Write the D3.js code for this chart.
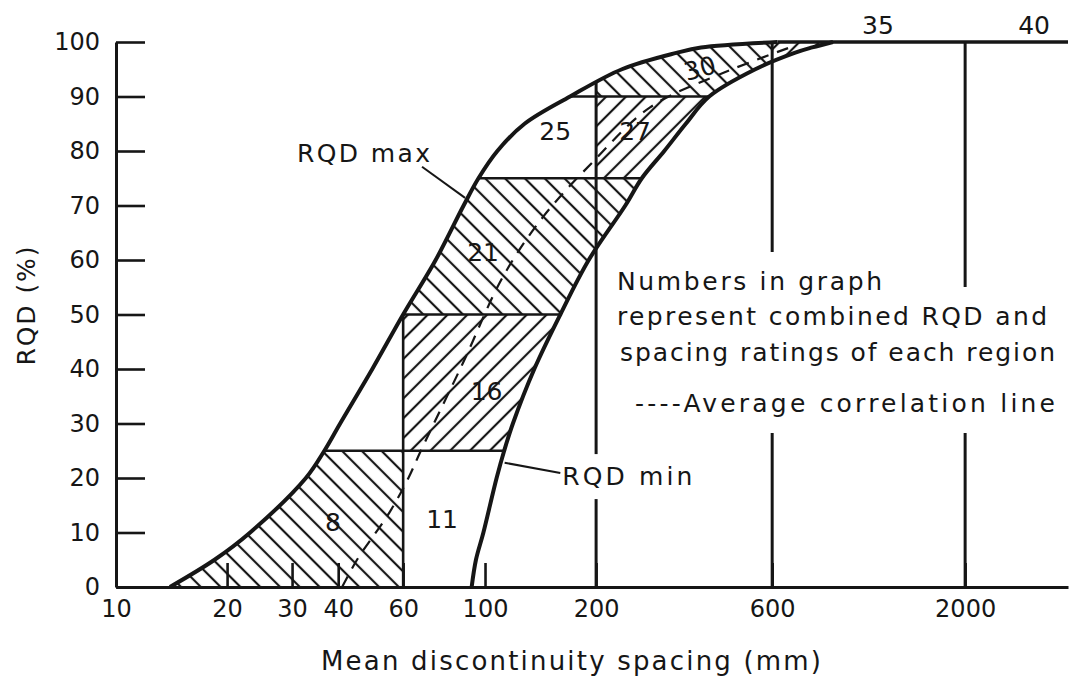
<!DOCTYPE html>
<html>
<head>
<meta charset="utf-8">
<script src="https://cdn.jsdelivr.net/npm/d3@7"></script>
<style>
body{margin:0;background:#fff;}
svg{display:block;font-family:"DejaVu Sans",sans-serif;}
</style>
</head>
<body>
<svg id="chart" width="1071" height="681"></svg>
<script>
//RQD level -> spacing (mm) of the two envelope curves
const rqdLevels     = [0, 5, 10, 20, 25, 30, 40, 50, 60, 70, 75, 80, 85, 90, 95, 98, 99, 100];
const rqdMaxSpacing = [14, 18.5, 23.1, 32.7, 36.7, 40.5, 49.5, 60, 73.5, 87.5, 96, 108, 128, 170, 235, 330, 385, 620];
const rqdMinSpacing = [92, 94.5, 99, 107.5, 112.7, 119, 136, 160, 191, 240, 266, 306, 350, 405, 540, 690, 770, 877];

//average correlation line
const avgSpacing = [41, 45, 55, 62, 67, 87, 112, 144, 196, 280, 430, 670];
const avgRqd     = [0, 5, 13.6, 20, 25, 41, 57, 68, 78, 88, 94, 99];

//class boundaries
const rqdSplits     = [25, 50, 75, 90];
const spacingSplits = [60, 200, 600, 2000];

//axis ticks
const xTicks = [10, 20, 30, 40, 60, 100, 200, 600, 2000];
const yTicks = [0, 10, 20, 30, 40, 50, 60, 70, 80, 90, 100];

//combined ratings and where they are written (spacing, RQD)
const ratings       = [8, 11, 16, 21, 25, 27, 30, 35, 40];
const ratingSpacing = [38.7, 76.5, 101, 98.8, 155, 255, 382, 1161, 3076];
const ratingRqd     = [12, 12.5, 36, 61.5, 83.7, 83.7, 95.2, 103.1, 103.1];

//hatched regions: spacing from/to, RQD from/to, hatch direction
const hatchRegions = [
	[10, 60, 0, 25, "back"],
	[60, 5000, 25, 50, "fwd"],
	[10, 5000, 50, 75, "back"],
	[200, 5000, 75, 90, "fwd"],
	[200, 600, 90, 100, "back"],
	[600, 5000, 90, 100, "fwd"]
];

const noteLines = ["Numbers in graph", "represent combined RQD and", "spacing ratings of each region"];
const legendText = "----Average correlation line";

const ink = "#161616";
const x = d3.scaleLog().domain([10, 3800]).range([116, 1068]);
const y = d3.scaleLinear().domain([0, 100]).range([587, 42]);
const smooth = d3.curveCatmullRom.alpha(0.5);

const svg = d3.select("#chart");
svg.append("rect").attr("width", 1071).attr("height", 681).attr("fill", "#fff");
const defs = svg.append("defs");

//斜線パターン
function hatch(id, angle){
	let p = defs.append("pattern")
		.attr("id", id)
		.attr("patternUnits", "userSpaceOnUse")
		.attr("width", 14).attr("height", 14)
		.attr("patternTransform", "rotate(" + angle + ")");
	p.append("line")
		.attr("x1", 7).attr("y1", -1).attr("x2", 7).attr("y2", 15)
		.attr("stroke", ink).attr("stroke-width", 2.2);
}
hatch("back", -45);
hatch("fwd", 45);

const env = rqdLevels.map((r, i) => ({r: r, hi: rqdMaxSpacing[i], lo: rqdMinSpacing[i]}));

const band = d3.area().curve(smooth)
	.y(d => y(d.r)).x0(d => x(d.hi)).x1(d => x(d.lo));
defs.append("clipPath").attr("id", "band").append("path").attr("d", band(env));

const underMax = d3.area().curve(smooth)
	.y(d => y(d.r)).x0(d => x(d.hi)).x1(x.range()[1] + 5);
defs.append("clipPath").attr("id", "under").append("path").attr("d", underMax(env));

//hatched fills
svg.append("g").attr("clip-path", "url(#band)")
	.selectAll("rect").data(hatchRegions).enter()
	.append("rect")
	.attr("x", d => x(d[0]))
	.attr("width", d => x(d[1]) - x(d[0]))
	.attr("y", d => y(d[3]))
	.attr("height", d => y(d[2]) - y(d[3]))
	.attr("fill", d => "url(#" + d[4] + ")");

//region boundaries inside the band
const inner = svg.append("g").attr("clip-path", "url(#band)")
	.attr("stroke", ink).attr("stroke-width", 2.6);
inner.selectAll(".h").data(rqdSplits).enter().append("line")
	.attr("x1", x(10)).attr("x2", x.range()[1])
	.attr("y1", d => y(d)).attr("y2", d => y(d));
inner.append("line")
	.attr("x1", x(spacingSplits[0])).attr("x2", x(spacingSplits[0]))
	.attr("y1", y(0)).attr("y2", y(100));

//long verticals below RQD max
svg.append("g").attr("clip-path", "url(#under)")
	.attr("stroke", ink).attr("stroke-width", 3)
	.selectAll("line").data(spacingSplits.slice(1)).enter().append("line")
	.attr("x1", d => x(d)).attr("x2", d => x(d))
	.attr("y1", y(0)).attr("y2", y(100));

//envelope curves
const curveHi = d3.line().curve(smooth).x(d => x(d.hi)).y(d => y(d.r));
const curveLo = d3.line().curve(smooth).x(d => x(d.lo)).y(d => y(d.r));
svg.append("path").attr("d", curveHi(env)).attr("fill", "none").attr("stroke", ink).attr("stroke-width", 4);
svg.append("path").attr("d", curveLo(env)).attr("fill", "none").attr("stroke", ink).attr("stroke-width", 4);
svg.append("line")
	.attr("x1", x(rqdMaxSpacing[rqdMaxSpacing.length - 1])).attr("x2", x.range()[1])
	.attr("y1", y(100)).attr("y2", y(100))
	.attr("stroke", ink).attr("stroke-width", 3.5);

//average correlation line
const avg = avgSpacing.map((s, i) => [s, avgRqd[i]]);
svg.append("path")
	.attr("d", d3.line().curve(smooth).x(d => x(d[0])).y(d => y(d[1]))(avg))
	.attr("fill", "none").attr("stroke", ink).attr("stroke-width", 2.2)
	.attr("stroke-dasharray", "12,9");

//axes
const xAxis = d3.axisBottom(x).tickValues(xTicks).tickFormat(d3.format("d"))
	.tickSize(-24).tickSizeOuter(0).tickPadding(13);
const gx = svg.append("g").attr("transform", "translate(0," + y(0) + ")").call(xAxis);
const yAxis = d3.axisLeft(y).tickValues(yTicks).tickSize(-29).tickSizeOuter(0).tickPadding(16);
const gy = svg.append("g").attr("transform", "translate(" + x(10) + ",0)").call(yAxis);
[gx, gy].forEach(g => {
	g.attr("font-family", null).attr("font-size", 24);
	g.select(".domain").attr("stroke", ink).attr("stroke-width", 3);
	g.selectAll(".tick line").attr("stroke", ink).attr("stroke-width", 2.6);
	g.selectAll(".tick text").attr("fill", ink);
});

//axis titles
svg.append("text").attr("x", 571).attr("y", 670)
	.attr("text-anchor", "middle").attr("font-size", 26).attr("fill", ink)
	.attr("textLength", 500).attr("lengthAdjust", "spacing")
	.text("Mean discontinuity spacing (mm)");
svg.append("text").attr("transform", "translate(35,306) rotate(-90)")
	.attr("text-anchor", "middle").attr("font-size", 25).attr("fill", ink)
	.attr("textLength", 119).attr("lengthAdjust", "spacing")
	.text("RQD (%)");

//ratings
svg.append("g").selectAll("text").data(ratings).enter().append("text")
	.attr("transform", (d, i) => "translate(" + x(ratingSpacing[i]) + "," + y(ratingRqd[i]) + ")" + (d == 30 ? " rotate(-15)" : ""))
	.attr("text-anchor", "middle").attr("dy", "0.36em")
	.attr("font-size", 25).attr("fill", ink)
	.text(d => d);

//白抜き付きの文字（背景を先に、文字を後に）
const bgLayer = svg.append("g");
const textLayer = svg.append("g");
function boxedText(tx, ty, str, len, pad){
	let t = textLayer.append("text").attr("x", tx).attr("y", ty)
		.attr("font-size", 25).attr("fill", ink)
		.attr("textLength", len).attr("lengthAdjust", "spacing")
		.text(str);
	let b = t.node().getBBox();
	bgLayer.append("rect")
		.attr("x", b.x - 5).attr("y", b.y - pad)
		.attr("width", b.width + 10).attr("height", b.height + 2 * pad)
		.attr("fill", "#fff");
	return t;
}
boxedText(617, 290, noteLines[0], 265, 15);
boxedText(617, 325, noteLines[1], 430, 15);
boxedText(620, 361, noteLines[2], 435, 15);
boxedText(635, 412, legendText, 420, 15);

//RQD max / RQD min leaders
const maxLeader = [[67.5, 77.1], [88.3, 71.4]];
const minLeader = [[113, 22.8], [160, 20.9]];
[maxLeader, minLeader].forEach(l => {
	svg.append("line")
		.attr("x1", x(l[0][0])).attr("y1", y(l[0][1]))
		.attr("x2", x(l[1][0])).attr("y2", y(l[1][1]))
		.attr("stroke", ink).attr("stroke-width", 2);
});
svg.append("text").attr("x", x(maxLeader[0][0]) + 8).attr("y", y(maxLeader[0][1]) - 5)
	.attr("text-anchor", "end").attr("font-size", 25).attr("fill", ink)
	.attr("textLength", 133).attr("lengthAdjust", "spacing")
	.text("RQD max");
boxedText(x(minLeader[1][0]) + 2, y(minLeader[1][1]) + 12, "RQD min", 130, 8);
</script>
</body>
</html>
